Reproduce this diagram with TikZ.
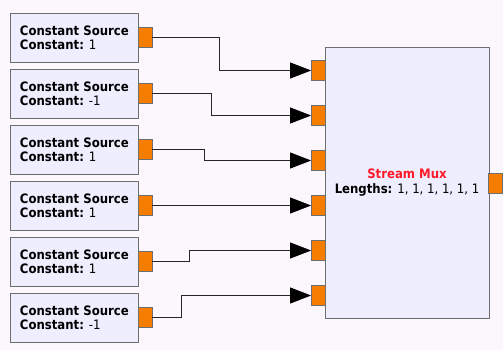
\documentclass[tikz,border=0pt]{standalone}
\usepackage{fontspec}
\setmainfont{DejaVu Sans}[FakeStretch=0.9]
\usepackage{xcolor}
\usepackage{tikz}
\usetikzlibrary{arrows.meta}
\definecolor{grcbg}{RGB}{252, 247, 252}
\definecolor{blockfill}{RGB}{238, 238, 255}
\definecolor{blockline}{RGB}{110, 110, 110}
\definecolor{portfill}{RGB}{245, 125, 0}
\definecolor{muxred}{RGB}{255, 25, 40}

\begin{document}
\begin{tikzpicture}[
    x=1pt, y=-1pt,
    srcblock/.style={rectangle, draw=blockline, fill=blockfill, thick, anchor=north west, minimum width=128pt, minimum height=49pt, inner sep=0pt, align=left, font=\fontsize{13}{14}\selectfont},
    port/.style={rectangle, draw=blockline, fill=portfill, thick, minimum width=14pt, minimum height=20pt, inner sep=0pt},
    wire/.style={thick, color=black!85, -{Triangle[length=21pt, width=16pt, color=black]}}
]
    \fill[grcbg] (0,0) rectangle (503,350);
    \useasboundingbox (0,0) rectangle (503,350);

    % constant sources
    \node[srcblock] (src1) at (10, 13) {\textbf{Constant Source}\\\textbf{Constant:} 1};
    \node[srcblock] (src2) at (10, 69) {\textbf{Constant Source}\\\textbf{Constant:} -1};
    \node[srcblock] (src3) at (10, 125) {\textbf{Constant Source}\\\textbf{Constant:} 1};
    \node[srcblock] (src4) at (10, 181) {\textbf{Constant Source}\\\textbf{Constant:} 1};
    \node[srcblock] (src5) at (10, 237) {\textbf{Constant Source}\\\textbf{Constant:} 1};
    \node[srcblock] (src6) at (10, 293) {\textbf{Constant Source}\\\textbf{Constant:} -1};

    \node[port] (out1) at (145, 37.5) {};
    \node[port] (out2) at (145, 93.5) {};
    \node[port] (out3) at (145, 149.5) {};
    \node[port] (out4) at (145, 205.5) {};
    \node[port] (out5) at (145, 261.5) {};
    \node[port] (out6) at (145, 317.5) {};

    % stream mux
    \node[rectangle, draw=blockline, fill=blockfill, thick, minimum width=164pt, minimum height=271pt, align=center, font=\fontsize{13}{15}\selectfont] (mux) at (407, 182.5)
        {\textcolor{muxred}{\textbf{Stream Mux}}\\\textbf{Lengths:} 1, 1, 1, 1, 1, 1};

    \node[port] (in1) at (318.5, 70.5) {};
    \node[port] (in2) at (318.5, 115.5) {};
    \node[port] (in3) at (318.5, 160.5) {};
    \node[port] (in4) at (318.5, 205.5) {};
    \node[port] (in5) at (318.5, 250.5) {};
    \node[port] (in6) at (318.5, 295.5) {};
    \node[port] (muxout) at (495.5, 183) {};

    % connections
    \draw[wire] (out1.east) -- ++(67,0) |- (in1.west);
    \draw[wire] (out2.east) -- ++(59,0) |- (in2.west);
    \draw[wire] (out3.east) -- ++(52,0) |- (in3.west);
    \draw[wire] (out4.east) -- (in4.west);
    \draw[wire] (out5.east) -- ++(37,0) |- (in5.west);
    \draw[wire] (out6.east) -- ++(29,0) |- (in6.west);
\end{tikzpicture}
\end{document}
